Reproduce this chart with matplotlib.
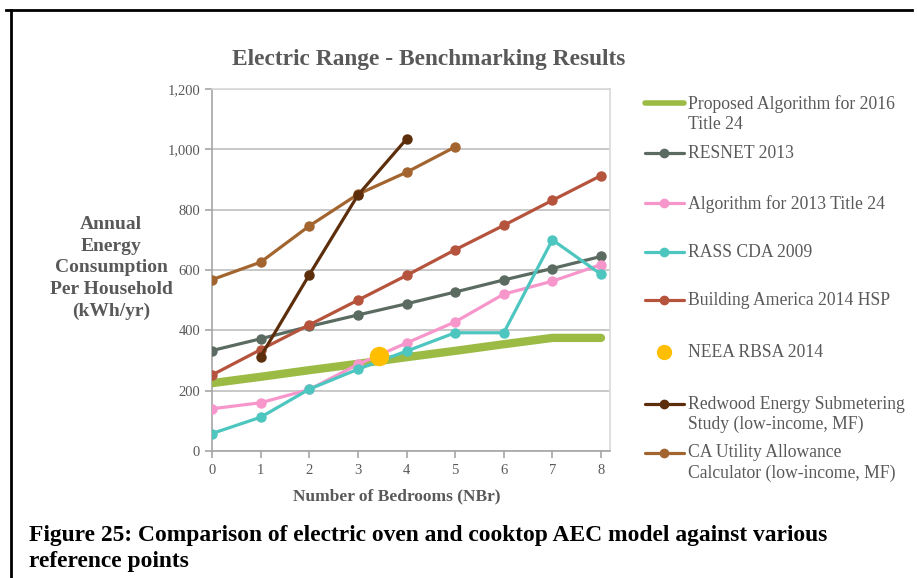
import matplotlib
matplotlib.use("Agg")
import matplotlib.pyplot as plt
from matplotlib.lines import Line2D
from matplotlib.ticker import FuncFormatter

plt.rcParams['font.family'] = ['Liberation Serif', 'DejaVu Serif']

# data
bedrooms = [0, 1, 2, 3, 4, 5, 6, 7, 8]
proposed_2016 = [225, 246, 268, 289, 311, 332, 354, 375, 375]
resnet_2013 = [333, 372, 413, 451, 488, 527, 567, 605, 645]
alg_2013 = [140, 160, 204, 287, 358, 428, 520, 563, 618]
rass_2009 = [58, 112, 205, 271, 331, 392, 392, 700, 586]
ba_2014 = [252, 336, 418, 500, 582, 667, 748, 831, 913]
neea_x = [3.43]
neea_y = [315]
redwood_x = [1, 2, 3, 4]
redwood_y = [313, 584, 848, 1034]
ca_x = [0, 1, 2, 3, 4, 5]
ca_y = [568, 626, 746, 851, 924, 1008]

labels = ["Proposed Algorithm for 2016\nTitle 24", "RESNET 2013",
          "Algorithm for 2013 Title 24", "RASS CDA 2009",
          "Building America 2014 HSP", "NEEA RBSA 2014",
          "Redwood Energy Submetering\nStudy (low-income, MF)",
          "CA Utility Allowance\nCalculator (low-income, MF)"]
colors = ["#9BBB45", "#5B6B61", "#F796CB", "#4EC6C0", "#B5533C", "#FFBF00",
          "#5C2E0B", "#A3652F"]

fig = plt.figure(figsize=(9.17, 5.78), dpi=100)
ax = fig.add_axes([0.2312, 0.2197, 0.4340, 0.6263])

lw, ms = 2.3, 6.5
ax.plot(bedrooms, proposed_2016, color=colors[0], lw=6, solid_capstyle='round', zorder=3)
ax.plot(bedrooms, resnet_2013, color=colors[1], lw=lw, marker='o', ms=ms, zorder=4)
ax.plot(bedrooms, alg_2013, color=colors[2], lw=lw, marker='o', ms=ms, zorder=4)
ax.plot(bedrooms, rass_2009, color=colors[3], lw=lw, marker='o', ms=ms, zorder=4)
ax.plot(bedrooms, ba_2014, color=colors[4], lw=lw, marker='o', ms=ms, zorder=4)
ax.plot(neea_x, neea_y, color=colors[5], marker='o', ms=13, ls='none', zorder=6)
ax.plot(redwood_x, redwood_y, color=colors[6], lw=lw, marker='o', ms=ms, zorder=5)
ax.plot(ca_x, ca_y, color=colors[7], lw=lw, marker='o', ms=ms, zorder=4)

ax.set_xlim(0, 8.185)
ax.set_ylim(0, 1200)
ax.set_xticks(bedrooms)
ax.set_yticks(range(0, 1201, 200))
ax.yaxis.set_major_formatter(FuncFormatter(lambda v, p: f"{int(v):,}"))
ax.grid(axis='y', color='#BFBFBF', lw=1.2)
ax.set_axisbelow(True)
for s in ['left', 'bottom']:
    ax.spines[s].set_color('#A6A6A6')
    ax.spines[s].set_linewidth(1.2)
for s in ['top', 'right']:
    ax.spines[s].set_color('#D9D9D9')
    ax.spines[s].set_linewidth(1.2)
ax.tick_params(axis='both', colors='#A6A6A6', labelcolor='#595959', labelsize=10.5,
               length=5, width=1.2)
ax.tick_params(axis='x', pad=4)

ax.set_xlabel("Number of Bedrooms (NBr)", fontsize=12.5, fontweight='bold',
              color='#595959')
ax.xaxis.set_label_coords(0.465, -0.102)
fig.text(0.121, 0.536, "Annual\nEnergy\nConsumption\nPer Household\n(kWh/yr)",
         ha='center', va='center', fontsize=14, fontweight='bold', color='#595959',
         linespacing=1.36)
fig.text(0.467, 0.897, "Electric Range - Benchmarking Results", ha='center',
         va='center', fontsize=16.8, fontweight='bold', color='#595959')

# legend drawn on the right
leg_y = [0.822, 0.735, 0.648, 0.564, 0.481, 0.391, 0.301, 0.217]
for lab, c, yy, i in zip(labels, colors, leg_y, range(len(labels))):
    if i == 0:
        fig.add_artist(Line2D([0.703, 0.746], [yy, yy], color=c, lw=4,
                              solid_capstyle='round'))
    elif i == 5:
        fig.add_artist(Line2D([0.7245], [yy], color=c, marker='o', ms=10, ls='none'))
    else:
        fig.add_artist(Line2D([0.703, 0.746], [yy, yy], color=c, lw=2.3,
                              solid_capstyle='round'))
        fig.add_artist(Line2D([0.7245], [yy], color=c, marker='o', ms=6, ls='none'))
    fig.text(0.750, yy + 0.014, lab, ha='left', va='top', fontsize=12.7,
             color='#595959', linespacing=1.24)

fig.text(0.032, 0.051, "Figure 25: Comparison of electric oven and cooktop AEC model against various\nreference points",
         ha='left', va='center', fontsize=16.9, fontweight='bold', color='black',
         linespacing=1.35)

# page frame lines
fig.add_artist(Line2D([0.007, 0.995], [0.983, 0.983], color='black', lw=2))
fig.add_artist(Line2D([0.012, 0.012], [0.0, 0.983], color='black', lw=2))

fig.savefig("out.png", dpi=100)
